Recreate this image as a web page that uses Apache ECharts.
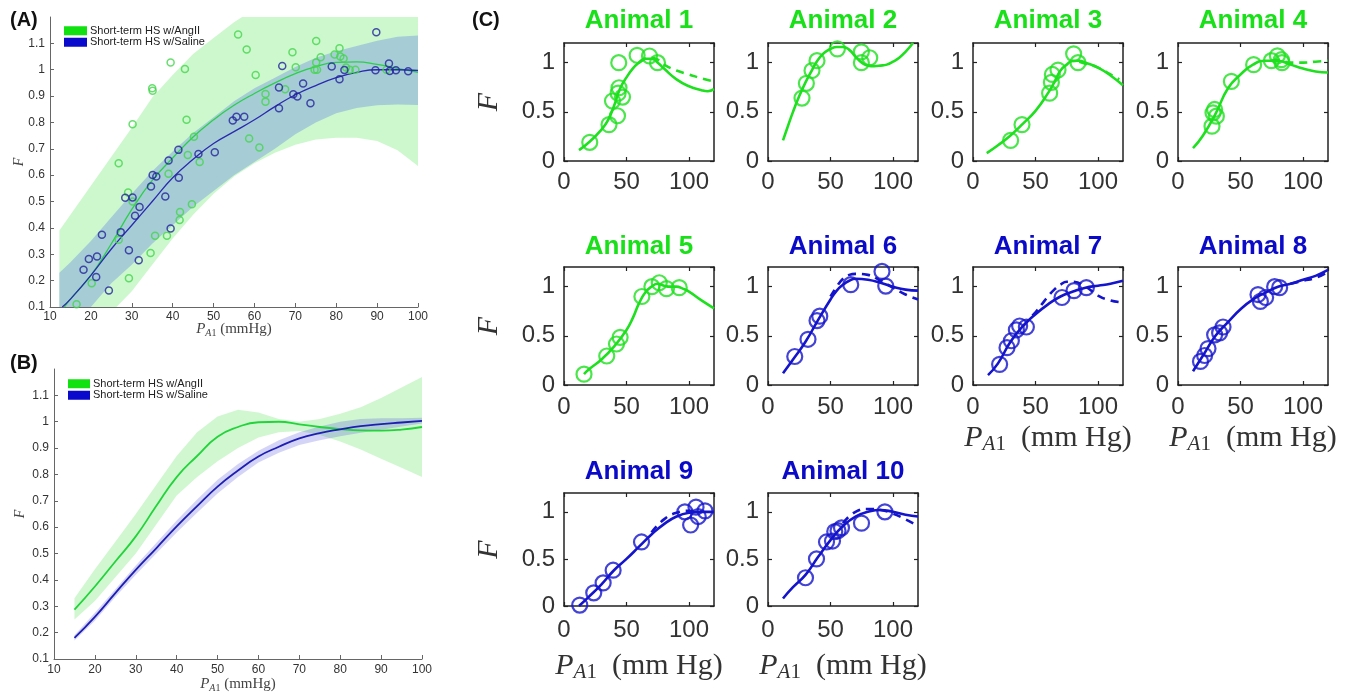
<!DOCTYPE html>
<html><head><meta charset="utf-8">
<script src="https://cdn.jsdelivr.net/npm/echarts@6.0.0/dist/echarts.min.js"></script>
<style>html,body{margin:0;padding:0;background:#fff}#c{width:1348px;height:695px}</style>
</head><body><div id="c"></div>
<script>
// ---------------- Panel A data ----------------
const aGreenPts = [[16.5,.11],[20.2,.19],[26.8,.645],[26.8,.355],[29.1,.534],[29.3,.209],[30.2,.793],[30.2,.50],[34.6,.305],[35.0,.93],[35.1,.92],[35.7,.37],[38.6,.37],[39.0,.605],[39.5,1.027],[41.7,.43],[41.8,.46],[43.0,1.003],[43.4,.81],[43.7,.677],[44.7,.49],[45.2,.746],[46.6,.65],[56.0,1.134],[58.1,1.077],[58.7,.739],[60.3,.98],[61.2,.705],[62.7,.908],[62.7,.879],[67.5,.926],[69.3,1.066],[70.1,1.009],[75.1,1.109],[75.1,1.027],[74.7,1.0],[75.3,1.0],[76.2,1.047],[79.6,1.058],[80.8,1.081],[81.0,1.05],[81.8,1.043],[82.4,1.008],[83.3,1.0],[84.7,1.0],[92.3,1.0]];
const aBluePts = [[18.2,.241],[19.5,.282],[21.3,.214],[21.5,.292],[22.7,.374],[24.4,.163],[27.3,.384],[28.4,.514],[29.3,.315],[30.2,.515],[30.8,.446],[31.9,.479],[31.7,.277],[34.7,.557],[35.1,.601],[36.0,.595],[38.2,.519],[39.0,.656],[39.5,.398],[41.4,.696],[41.5,.59],[46.3,.68],[50.3,.687],[54.7,.807],[55.6,.822],[57.5,.822],[66.0,.933],[66.0,.854],[66.8,1.014],[69.5,.907],[70.5,.898],[71.9,.948],[73.7,.873],[78.9,1.012],[80.8,.964],[82.0,.999],[89.8,1.142],[89.6,.998],[92.9,1.024],[93.1,.995],[94.6,.998],[97.6,.994]];
const aGreenFit = [[13.5,.1],[15,.13],[20,.22],[25,.34],[30,.47],[35,.58],[40,.665],[45,.745],[50,.81],[55,.865],[60,.91],[65,.95],[70,.985],[75,1.012],[80,1.028],[85,1.03],[90,1.02],[95,1.005],[100,.99]];
const aBlueFit = [[13,.1],[15,.13],[20,.22],[25,.32],[30,.41],[35,.5],[40,.59],[45,.66],[50,.72],[55,.765],[60,.81],[65,.86],[70,.905],[75,.94],[80,.97],[85,.99],[90,1.0],[95,1.0],[100,.997]];
const aBandX      = [12.3, 15,  20,  25,  30,  35,   40,  45,  50,  55,  60,  65,  70,  75,   80,  85,   90,   95,  100];
const aGreenBandHi= [.39, .45, .56, .67, .78, .895, .98, 1.06,1.12,1.18,1.23,1.27,1.3, 1.32, 1.33,1.33, 1.32, 1.3, 1.28];
const aGreenBandLo= [-.15,-.1, .0,  .08, .16, .26,  .36, .45, .53, .595,.645,.685,.715,.735, .742,.742, .73,  .695,.635];
const aBlueBandHi = [.23, .27, .35, .44, .53, .615, .69, .76, .82, .88, .93, .97, 1.01,1.045,1.07,1.09, 1.11, 1.125,1.13];
const aBlueBandLo = [-.05,.0,  .1,  .19, .26, .34,  .41, .48, .54, .6,  .65, .7,  .755,.8,   .835,.855, .865, .868,.866];

// ---------------- Panel B data ----------------
const bX          = [15,  20,   25,  30,   35,  40,   45,  50,   55,  60,   65,  70,  75,  80,   85,   90,   95,  100];
const bGreenFit   = [.287,.375, .47, .565, .68, .79,  .87, .943, .98, .998, 1.0, .99, .98, .972, .967, .966, .97, .98];
const bBlueFit    = [.18, .26,  .35, .438, .52, .603, .68, .754, .815,.868, .905,.937,.957,.971, .983, .991, .997,1.003];
const bGreenBandHi= [.33, .44,  .545,.65,  .76, .87,  .96, 1.02, 1.045,1.035,1.01,1.0,1.01,1.03, 1.055,1.09, 1.13,1.17];
const bGreenBandLo= [.25, .32,  .41, .5,   .61, .72,  .79, .85,  .9,  .94,  .96, .965,.95,.925, .895, .86,  .825,.79];
const bBlueBandHi = [.19, .275, .365,.455, .54, .625, .705,.78,  .84, .89,  .93, .96, .982,1.0,  1.01, 1.013,1.013,1.015];
const bBlueBandLo = [.17, .245, .335,.42,  .5,  .58,  .655,.728, .79, .845, .882,.912,.93,.945, .958, .97,  .982,.993];

const legendNames = ['Short-term HS w/AngII','Short-term HS w/Saline'];

// ---------------- Panel C data ----------------
const cTitles = ['Animal 1','Animal 2','Animal 3','Animal 4','Animal 5','Animal 6','Animal 7','Animal 8','Animal 9','Animal 10'];
const cGroup  = ['g','g','g','g','g','b','b','b','b','b'];
const cPts = [
  [[20.6,.19],[36,.37],[38.8,.61],[42.8,.46],[43.8,1.0],[44,.745],[46.8,.65],[43.3,.69],[58.5,1.075],[68.4,1.068],[74.8,1.0]],
  [[27.2,.64],[30.7,.79],[35.2,.92],[39.2,1.02],[55.5,1.14],[74.7,1.11],[74.7,1.0],[81.4,1.05]],
  [[30.1,.21],[39.2,.37],[61.3,.69],[62.7,.8],[63.5,.88],[68,.925],[80.5,1.09],[84,1.0]],
  [[27.2,.354],[28,.49],[29.3,.524],[30.7,.456],[42.7,.81],[60.5,.98],[74.7,1.02],[79.5,1.07],[82.7,1.03],[83.2,1.0]],
  [[16,.11],[34.2,.295],[42,.417],[44.9,.485],[62.3,.9],[70.3,1.0],[76.2,1.04],[82,.98],[92.2,.99]],
  [[21.4,.29],[32,.465],[39.2,.655],[41.4,.7],[66.2,1.02],[91.2,1.155],[94.2,1.006]],
  [[21.3,.21],[27.2,.38],[30.7,.45],[34.7,.56],[37.3,.6],[42.7,.59],[71.2,.89],[80.8,.96],[90.7,.99]],
  [[18,.24],[21.3,.3],[24,.37],[29.3,.51],[33.3,.53],[36,.59],[64,.92],[65.9,.85],[70.1,.89],[77.3,1.0],[81.3,.99]],
  [[12.6,.01],[23.8,.14],[31.3,.245],[39.3,.38],[62,.68],[96.7,1.0],[101.3,.86],[105.6,1.05],[107.4,.95],[112.8,1.01]],
  [[30,.3],[38.8,.5],[46.8,.68],[51.6,.69],[53.4,.79],[56,.8],[58.8,.83],[74.8,.88],[93.5,1.0]]
];
const cFit = [
  [[12,.11],[20,.19],[30,.32],[35,.41],[40,.56],[45,.74],[50,.85],[55,.94],[60,1.0],[65,1.04],[70,1.04],[75,1.0],[80,.94],[90,.83],[100,.76],[110,.72],[115,.71],[120,.73]],
  [[12,.21],[15,.32],[20,.5],[25,.66],[30,.8],[35,.92],[40,1.03],[45,1.1],[50,1.14],[55,1.16],[60,1.16],[65,1.13],[70,1.06],[75,1.0],[80,.97],[85,.965],[90,.97],[95,.98],[100,1.01],[105,1.05],[110,1.11],[116,1.2]],
  [[11,.08],[20,.16],[30,.26],[40,.38],[50,.51],[60,.69],[65,.8],[70,.92],[75,.98],[80,1.02],[85,1.02],[90,1.0],[100,.95],[110,.87],[120,.77]],
  [[12,.13],[20,.26],[30,.48],[40,.74],[50,.88],[60,.98],[70,1.02],[80,1.02],[90,.98],[100,.94],[110,.91],[120,.9]],
  [[16,.11],[20,.16],[30,.26],[40,.39],[50,.56],[55,.68],[60,.83],[65,.94],[70,1.0],[75,1.03],[80,1.01],[85,1.0],[90,1.0],[95,.98],[100,.95],[110,.86],[120,.78]],
  [[12,.12],[20,.26],[30,.44],[40,.66],[50,.87],[55,.96],[60,1.02],[65,1.06],[70,1.08],[80,1.07],[90,1.04],[100,1.0],[110,.97],[120,.96]],
  [[12,.1],[20,.22],[30,.44],[40,.6],[50,.72],[60,.82],[70,.9],[80,.95],[90,.99],[100,1.01],[110,1.03],[120,1.06]],
  [[12,.14],[20,.3],[30,.5],[40,.64],[50,.77],[60,.87],[70,.94],[80,1.0],[90,1.03],[100,1.07],[110,1.11],[120,1.17]],
  [[12,.0],[20,.1],[30,.23],[40,.38],[50,.5],[60,.63],[70,.76],[80,.87],[90,.95],[100,.99],[110,1.0],[120,1.0]],
  [[12,.08],[20,.2],[30,.33],[40,.52],[50,.7],[60,.85],[70,.95],[80,1.0],[90,1.02],[100,1.0],[110,.97],[120,.95]]
];
const cDash = [
  [[60,1.0],[65,1.04],[70,1.05],[75,1.03],[80,.98],[90,.92],[100,.88],[110,.84],[120,.81]],
  [],
  [[85,1.01],[90,.99],[100,.95],[110,.88],[117,.83]],
  [[75,1.02],[80,1.03],[90,1.0],[100,1.0],[110,1.01],[120,1.02]],
  [],
  [[50,.9],[55,1.0],[60,1.08],[65,1.12],[70,1.13],[80,1.12],[90,1.06],[100,.99],[110,.92],[120,.87]],
  [[40,.6],[50,.74],[55,.82],[60,.9],[65,.97],[70,1.02],[75,1.05],[80,1.05],[90,1.0],[100,.91],[110,.86],[120,.84]],
  [[90,1.03],[100,1.06],[110,1.09],[120,1.15]],
  [[70,.78],[80,.92],[90,.99],[100,1.01],[110,1.0]],
  [[60,.88],[70,1.0],[80,1.03],[90,1.02],[100,.98],[110,.92],[120,.85]]
];

// ---------------- styles ----------------
const SANS = '"Liberation Sans", Arial, Helvetica, sans-serif';
const SERIF = '"Liberation Serif", "DejaVu Serif", serif';
const A_GREEN = '#44d64c', A_BLUE = '#23239c';
const C_GREEN = '#1ee01e', C_BLUE = '#1414cc';
const T_GREEN = '#19e019', T_BLUE = '#0a0ac8';

const grids = [], xAxes = [], yAxes = [], series = [], graphics = [];

function band(ax, xs, lo, hi, fill) {
  return {
    type: 'custom', xAxisIndex: ax, yAxisIndex: ax, silent: true, z: 1,
    data: [[xs[0], lo[0]]],
    renderItem: function (params, api) {
      const pts = [];
      for (let i = 0; i < xs.length; i++) pts.push(api.coord([xs[i], hi[i]]));
      for (let i = xs.length - 1; i >= 0; i--) pts.push(api.coord([xs[i], lo[i]]));
      const cs = params.coordSys;
      return { type: 'polygon', shape: { points: pts }, style: { fill: fill },
        clipPath: { type: 'rect', shape: { x: cs.x, y: cs.y, width: cs.width, height: cs.height } } };
    }
  };
}
function zip(xs, ys) { return xs.map((x, i) => [x, ys[i]]); }

function nameStyle(size, subSize, subPad, color) {
  return { fontFamily: SERIF, fontSize: size, color: color,
    rich: { p: { fontFamily: SERIF, fontStyle: 'italic', fontSize: size, color: color },
            a: { fontFamily: SERIF, fontStyle: 'italic', fontSize: subSize, color: color, padding: [subPad, 0, 0, 0] },
            s: { fontFamily: SERIF, fontSize: subSize, color: color, padding: [subPad, 0, 0, 0] } } };
}

function mainAxes(gi, opt) {
  const axisLine = { show: true, onZero: false, lineStyle: { color: '#666', width: 1 } };
  const tick = { show: true, inside: true, length: 4, lineStyle: { color: '#666', width: 1 } };
  xAxes.push({
    gridIndex: gi, type: 'value', min: 10, max: 100, interval: 10,
    axisLine: axisLine, axisTick: tick, splitLine: { show: false },
    axisLabel: { fontSize: 12, color: '#333', margin: opt.xm, fontFamily: SANS, showMaxLabel: true, showMinLabel: true },
    name: '{p|P}{a|A}{s|1} (mmHg)', nameLocation: 'middle', nameGap: opt.xg, nameMoveOverlap: false,
    nameTextStyle: nameStyle(15, 10, 7, '#444')
  });
  yAxes.push({
    gridIndex: gi, type: 'value', min: 0.1, max: 1.2, interval: 0.1,
    axisLine: axisLine, axisTick: tick, splitLine: { show: false },
    axisLabel: { fontSize: 12, color: '#333', margin: opt.ym, fontFamily: SANS, showMaxLabel: false },
    name: 'F', nameLocation: 'middle', nameGap: opt.yg, nameRotate: 90, nameMoveOverlap: false,
    nameTextStyle: { fontFamily: SERIF, fontStyle: 'italic', fontSize: 14, color: '#444' }
  });
}

// Panel A
grids.push({ left: 50, top: 17, width: 368, height: 290 });
mainAxes(0, { xm: 4, xg: 14, ym: 5, yg: 24 });
series.push(band(0, aBandX, aGreenBandLo, aGreenBandHi, '#cdf8cd'));
series.push(band(0, aBandX, aBlueBandLo, aBlueBandHi, '#a6cdd5'));
series.push({ type: 'line', name: legendNames[0], xAxisIndex: 0, yAxisIndex: 0, data: aGreenFit, smooth: true, showSymbol: false, z: 3,
  lineStyle: { color: '#2bcf4a', width: 1.3 }, itemStyle: { color: '#22dd22' } });
series.push({ type: 'line', name: legendNames[1], xAxisIndex: 0, yAxisIndex: 0, data: aBlueFit, smooth: true, showSymbol: false, z: 3,
  lineStyle: { color: '#2a2ab0', width: 1.3 }, itemStyle: { color: '#1010cc' } });
series.push({ type: 'scatter', name: 'A green pts', xAxisIndex: 0, yAxisIndex: 0, data: aGreenPts, symbol: 'circle', symbolSize: 7, z: 4,
  itemStyle: { color: 'rgba(255,255,255,0)', borderColor: A_GREEN, borderWidth: 1.5 } });
series.push({ type: 'scatter', name: 'A blue pts', xAxisIndex: 0, yAxisIndex: 0, data: aBluePts, symbol: 'circle', symbolSize: 7, z: 4,
  itemStyle: { color: 'rgba(255,255,255,0)', borderColor: A_BLUE, borderWidth: 1.5 } });

// Panel B
grids.push({ left: 54, top: 369, width: 368, height: 290 });
mainAxes(1, { xm: 5, xg: 17, ym: 5, yg: 27 });
series.push(band(1, bX, bGreenBandLo, bGreenBandHi, 'rgba(40,220,40,0.22)'));
series.push(band(1, bX, bBlueBandLo, bBlueBandHi, 'rgba(60,60,220,0.22)'));
series.push({ type: 'line', name: legendNames[0], xAxisIndex: 1, yAxisIndex: 1, data: zip(bX, bGreenFit), smooth: true, showSymbol: false, z: 3,
  lineStyle: { color: '#22d43a', width: 1.8 }, itemStyle: { color: '#22dd22' } });
series.push({ type: 'line', name: legendNames[1], xAxisIndex: 1, yAxisIndex: 1, data: zip(bX, bBlueFit), smooth: true, showSymbol: false, z: 3,
  lineStyle: { color: '#1e1eb4', width: 1.8 }, itemStyle: { color: '#1010cc' } });

// Panel C
const colLeft = [564, 768, 973, 1178];
const rows = [ { top: 43, h: 118, xm: 9, xg: 36, ty: 21 }, { top: 267, h: 118, xm: 10, xg: 36, ty: 247 }, { top: 493, h: 113, xm: 12, xg: 43, ty: 472 } ];
const cW = 150;
for (let k = 0; k < 10; k++) {
  const r = Math.floor(k / 4), c = k % 4;
  const row = rows[r];
  const gi = grids.length;
  grids.push({ left: colLeft[c], top: row.top, width: cW, height: row.h });
  const line = { show: true, onZero: false, lineStyle: { color: '#222', width: 1.5 } };
  const tick = { show: true, inside: true, length: 4, lineStyle: { color: '#222', width: 1.2 } };
  const showXName = (k === 6 || k === 7 || k === 8 || k === 9);
  const showYName = (c === 0);
  const xi = xAxes.length;
  xAxes.push({
    gridIndex: gi, type: 'value', min: 0, max: 120, interval: 50, position: 'bottom',
    axisLine: line, axisTick: tick, splitLine: { show: false },
    axisLabel: { fontSize: 24, color: '#333', margin: row.xm, fontFamily: SANS, showMaxLabel: false, showMinLabel: true },
    name: showXName ? '{p|P}{a|A}{s|1}  (mm Hg)' : '', nameLocation: 'middle', nameGap: row.xg, nameMoveOverlap: false,
    nameTextStyle: nameStyle(30, 21, 13, '#333')
  });
  xAxes.push({
    gridIndex: gi, type: 'value', min: 0, max: 120, interval: 50, position: 'top',
    axisLine: line, axisTick: tick, splitLine: { show: false }, axisLabel: { show: false }
  });
  const yi = yAxes.length;
  yAxes.push({
    gridIndex: gi, type: 'value', min: 0, max: 1.2, interval: 0.5, position: 'left',
    axisLine: line, axisTick: tick, splitLine: { show: false },
    axisLabel: { fontSize: 24, color: '#333', margin: 9, fontFamily: SANS, showMaxLabel: false, showMinLabel: true },
    name: showYName ? 'F' : '', nameLocation: 'middle', nameGap: 60, nameRotate: 90, nameMoveOverlap: false,
    nameTextStyle: { fontFamily: SERIF, fontStyle: 'italic', fontSize: 30, color: '#333' }
  });
  yAxes.push({
    gridIndex: gi, type: 'value', min: 0, max: 1.2, interval: 0.5, position: 'right',
    axisLine: line, axisTick: tick, splitLine: { show: false }, axisLabel: { show: false }
  });
  const col = cGroup[k] === 'g' ? C_GREEN : C_BLUE;
  series.push({ type: 'line', name: cTitles[k] + ' fit', xAxisIndex: xi, yAxisIndex: yi, data: cFit[k], smooth: true, showSymbol: false, z: 3,
    lineStyle: { color: col, width: 2.6 } });
  if (cDash[k].length) series.push({ type: 'line', name: cTitles[k] + ' alt', xAxisIndex: xi, yAxisIndex: yi, data: cDash[k], smooth: true, showSymbol: false, z: 3,
    lineStyle: { color: col, width: 2.6, type: [8, 6] } });
  series.push({ type: 'scatter', name: cTitles[k] + ' data', xAxisIndex: xi, yAxisIndex: yi, data: cPts[k], symbol: 'circle', symbolSize: 15, z: 4,
    itemStyle: { color: 'rgba(255,255,255,0)', borderColor: col, borderWidth: 2.2 } });
  graphics.push({ type: 'text', x: colLeft[c] + cW / 2, y: row.ty, z: 10,
    style: { text: cTitles[k], font: 'bold 26px ' + SANS, fill: cGroup[k] === 'g' ? T_GREEN : T_BLUE,
      align: 'center', verticalAlign: 'middle', textAlign: 'center', textVerticalAlign: 'middle' } });
}

// panel labels
[['(A)', 10, 20], ['(B)', 10, 363], ['(C)', 472, 20]].forEach(function (p) {
  graphics.push({ type: 'text', x: p[1], y: p[2], z: 10,
    style: { text: p[0], font: 'bold 20px ' + SANS, fill: '#111', align: 'left', verticalAlign: 'middle', textAlign: 'left', textVerticalAlign: 'middle' } });
});

const legendItem = function (i, color) { return { name: legendNames[i], itemStyle: { color: color } }; };
const option = {
  animation: false,
  backgroundColor: '#fff',
  grid: grids.map(g => Object.assign({ outerBoundsMode: 'none', containLabel: false, show: false }, g)),
  xAxis: xAxes,
  yAxis: yAxes,
  legend: [
    { data: [legendItem(0, '#11e011'), legendItem(1, '#0a0acc')], left: 64, top: 25, orient: 'vertical', icon: 'rect',
      itemWidth: 23, itemHeight: 9, itemGap: 0, selectedMode: false, padding: 0,
      textStyle: { fontSize: 11, color: '#222', fontFamily: SANS, lineHeight: 11.5, padding: [0, 0, 0, -2] } },
    { data: [legendItem(0, '#11e011'), legendItem(1, '#0a0acc')], left: 68, top: 378, orient: 'vertical', icon: 'rect',
      itemWidth: 22, itemHeight: 9, itemGap: 0, selectedMode: false, padding: 0,
      textStyle: { fontSize: 11, color: '#222', fontFamily: SANS, lineHeight: 11.5, padding: [0, 0, 0, -2] } }
  ],
  graphic: graphics,
  series: series
};
const chart = echarts.init(document.getElementById('c'), null, { renderer: 'canvas' });
chart.setOption(option);
</script></body></html>
